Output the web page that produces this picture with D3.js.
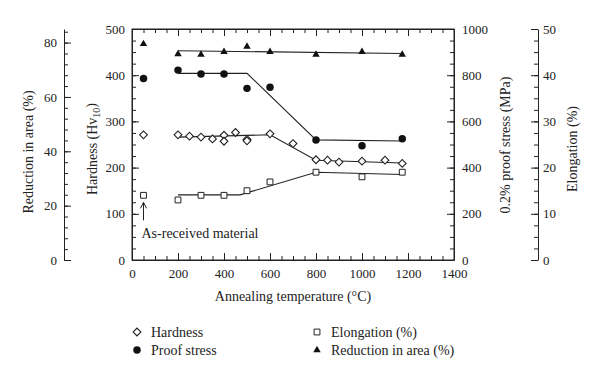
<!DOCTYPE html>
<html>
<head>
<meta charset="utf-8">
<script src="https://cdn.jsdelivr.net/npm/d3@7"></script>
<style>
  body { margin: 0; background: #fff; }
  svg text { font-family: "Liberation Serif", "DejaVu Serif", serif; fill: #222; }
</style>
</head>
<body>
<div id="chart"></div>
<script>
// annealing temperature (°C) and measured values
const hardT = [50, 200, 250, 300, 350, 400, 400, 450, 500, 500, 600, 700, 800, 850, 900, 1000, 1100, 1175];
const hardV = [271, 271, 268, 266, 262, 270, 257, 276, 261, 258, 273, 252, 217, 216, 212, 214, 216, 209];

const proofT = [50, 200, 300, 400, 500, 600, 800, 1000, 1175];
const proofV = [786, 822, 805, 805, 743, 748, 519, 495, 525];

const elongT = [50, 200, 300, 400, 500, 600, 800, 1000, 1175];
const elongV = [14, 13, 14, 14, 15, 16.9, 19, 18, 19];

const redT = [50, 200, 300, 400, 500, 600, 800, 1000, 1175];
const redV = [79.5, 75.8, 75.6, 76.6, 78.5, 76.6, 75.6, 76.6, 75.6];

// fitted trend lines
const hardLineT = [200, 600, 800, 1175];
const hardLineV = [266, 271, 216, 210];
const proofLineT = [200, 500, 800, 1175];
const proofLineV = [808, 808, 520, 515];
const elongLineT = [200, 470, 800, 1175];
const elongLineV = [14.1, 14.1, 19, 18.5];
const redLineT = [200, 1175];
const redLineV = [77, 76];

const xTicks = [0, 200, 400, 600, 800, 1000, 1200, 1400];

const width = 600;
const height = 378;
const box = { left: 132, right: 454, top: 29, bottom: 260 };
const serif = '"Liberation Serif", "DejaVu Serif", serif';

const svg = d3.select('#chart')
  .append('svg')
  .attr('width', width)
  .attr('height', height);

const x = d3.scaleLinear().domain([0, 1400]).range([box.left, box.right]);
const yHard = d3.scaleLinear().domain([0, 500]).range([box.bottom, box.top]);
const yProof = d3.scaleLinear().domain([0, 1000]).range([box.bottom, box.top]);
const yElong = d3.scaleLinear().domain([0, 50]).range([box.bottom, box.top]);
const yRed = d3.scaleLinear().domain([0, 85]).range([box.bottom, box.top]);

const fmt = d3.format('d');

function styleAxis(g) {
  g.attr('font-size', 13).attr('font-family', serif);
  g.selectAll('path, line').attr('stroke', '#222');
  g.selectAll('text').attr('fill', '#222').style('font-family', serif);
}

// minor ticks helper
function minor(axisFn, scale, step, size, tx, ty) {
  const [a, b] = scale.domain();
  svg.append('g')
    .attr('transform', `translate(${tx},${ty})`)
    .call(axisFn(scale).tickValues(d3.range(a, b + 0.001, step)).tickFormat('').tickSizeInner(size).tickSizeOuter(0))
    .call(g => g.select('.domain').remove())
    .call(styleAxis);
}

// plot frame
svg.append('rect')
  .attr('x', box.left).attr('y', box.top)
  .attr('width', box.right - box.left).attr('height', box.bottom - box.top)
  .attr('fill', 'none').attr('stroke', '#222');

// bottom / top
svg.append('g')
  .attr('transform', `translate(0,${box.bottom})`)
  .call(d3.axisBottom(x).tickValues(xTicks).tickFormat(fmt).tickSizeInner(-7).tickSizeOuter(0).tickPadding(9))
  .call(styleAxis);
minor(d3.axisBottom, x, 50, -4, 0, box.bottom);
svg.append('g')
  .attr('transform', `translate(0,${box.top})`)
  .call(d3.axisTop(x).tickValues(xTicks).tickSizeInner(-7).tickSizeOuter(0).tickFormat(''))
  .call(styleAxis);
minor(d3.axisTop, x, 50, -4, 0, box.top);

// hardness (left frame)
svg.append('g')
  .attr('transform', `translate(${box.left},0)`)
  .call(d3.axisLeft(yHard).ticks(5).tickFormat(fmt).tickSizeInner(-7).tickSizeOuter(0).tickPadding(7))
  .call(styleAxis);
minor(d3.axisLeft, yHard, 25, -4, box.left, 0);

// proof stress (right frame)
svg.append('g')
  .attr('transform', `translate(${box.right},0)`)
  .call(d3.axisRight(yProof).ticks(5).tickFormat(fmt).tickSizeInner(-7).tickSizeOuter(0).tickPadding(8))
  .call(styleAxis);
minor(d3.axisRight, yProof, 50, -4, box.right, 0);

// reduction in area (outer left)
svg.append('g')
  .attr('transform', 'translate(64,0)')
  .call(d3.axisLeft(yRed).tickValues([0, 20, 40, 60, 80]).tickFormat(fmt).tickSizeInner(-7).tickSizeOuter(0).tickPadding(7))
  .call(styleAxis);
svg.append('g')
  .attr('transform', 'translate(64,0)')
  .call(d3.axisLeft(yRed).tickValues(d3.range(0, 85, 4)).tickFormat('').tickSizeInner(-4).tickSizeOuter(0))
  .call(g => g.select('.domain').remove())
  .call(styleAxis);

// elongation (outer right)
svg.append('g')
  .attr('transform', 'translate(538,0)')
  .call(d3.axisRight(yElong).ticks(5).tickFormat(fmt).tickSizeInner(-7).tickSizeOuter(0).tickPadding(5))
  .call(styleAxis);
minor(d3.axisRight, yElong, 2.5, -4, 538, 0);

// axis titles
function vTitle(cx, cy, build) {
  const t = svg.append('text')
    .attr('transform', `translate(${cx},${cy}) rotate(-90)`)
    .attr('text-anchor', 'middle')
    .attr('dy', '0.35em')
    .attr('font-size', 14);
  build(t);
}
vTitle(28, 152, t => t.text('Reduction in area (%)'));
vTitle(92, 149, t => {
  t.append('tspan').text('Hardness (Hv');
  t.append('tspan').attr('font-size', 10).attr('dy', '0.3em').text('10');
  t.append('tspan').attr('dy', '-0.3em').text(')');
});
vTitle(505, 145, t => t.text('0.2% proof stress (MPa)'));
vTitle(572, 149, t => t.text('Elongation (%)'));

svg.append('text')
  .attr('x', (box.left + box.right) / 2).attr('y', 301)
  .attr('text-anchor', 'middle').attr('font-size', 14)
  .text('Annealing temperature (°C)');

// trend lines
const line = (ys) => d3.line().x(d => x(d[0])).y(d => ys(d[1]));
const lines = [
  [hardLineT, hardLineV, yHard],
  [proofLineT, proofLineV, yProof],
  [elongLineT, elongLineV, yElong],
  [redLineT, redLineV, yRed],
];
lines.forEach(([ts, vs, ys]) => {
  svg.append('path')
    .datum(d3.zip(ts, vs))
    .attr('d', line(ys))
    .attr('fill', 'none').attr('stroke', '#222').attr('stroke-width', 1.1);
});

// markers
const marks = {
  hard: { sym: d3.symbolSquare, size: 30, rot: 45, fill: '#fff', sw: 1.1 },
  proof: { sym: d3.symbolCircle, size: 44, rot: 0, fill: '#111', sw: 0 },
  elong: { sym: d3.symbolSquare, size: 34, rot: 0, fill: '#fff', sw: 1 },
  red: { sym: d3.symbolTriangle, size: 24, rot: 0, fill: '#111', sw: 0 },
};
function drawMark(g, m, cx, cy) {
  g.append('path')
    .attr('d', d3.symbol(m.sym, m.size)())
    .attr('transform', `translate(${cx},${cy}) rotate(${m.rot})`)
    .attr('fill', m.fill)
    .attr('stroke', '#222')
    .attr('stroke-width', m.sw);
}
const pts = svg.append('g');
redT.forEach((t, i) => drawMark(pts, marks.red, x(t), yRed(redV[i])));
proofT.forEach((t, i) => drawMark(pts, marks.proof, x(t), yProof(proofV[i])));
elongT.forEach((t, i) => drawMark(pts, marks.elong, x(t), yElong(elongV[i])));
hardT.forEach((t, i) => drawMark(pts, marks.hard, x(t), yHard(hardV[i])));

// as-received annotation
const ax = x(50), ay = yElong(14);
svg.append('path')
  .attr('d', `M${ax},${ay + 25}V${ay + 7}M${ax - 3},${ay + 13}L${ax},${ay + 7}L${ax + 3},${ay + 13}`)
  .attr('fill', 'none').attr('stroke', '#222').attr('stroke-width', 1);
svg.append('text')
  .attr('x', ax - 2).attr('y', ay + 43)
  .attr('font-size', 14)
  .text('As-received material');

// legend
const legend = [
  ['Hardness', marks.hard, 137, 332],
  ['Proof stress', marks.proof, 137, 350],
  ['Elongation (%)', marks.elong, 317, 332],
  ['Reduction in area (%)', marks.red, 317, 350],
];
const lg = svg.append('g');
legend.forEach(([label, m, lx, ly]) => {
  drawMark(lg, m, lx, ly);
  lg.append('text')
    .attr('x', lx + 14).attr('y', ly)
    .attr('dy', '0.35em')
    .attr('font-size', 14)
    .text(label);
});
</script>
</body>
</html>
